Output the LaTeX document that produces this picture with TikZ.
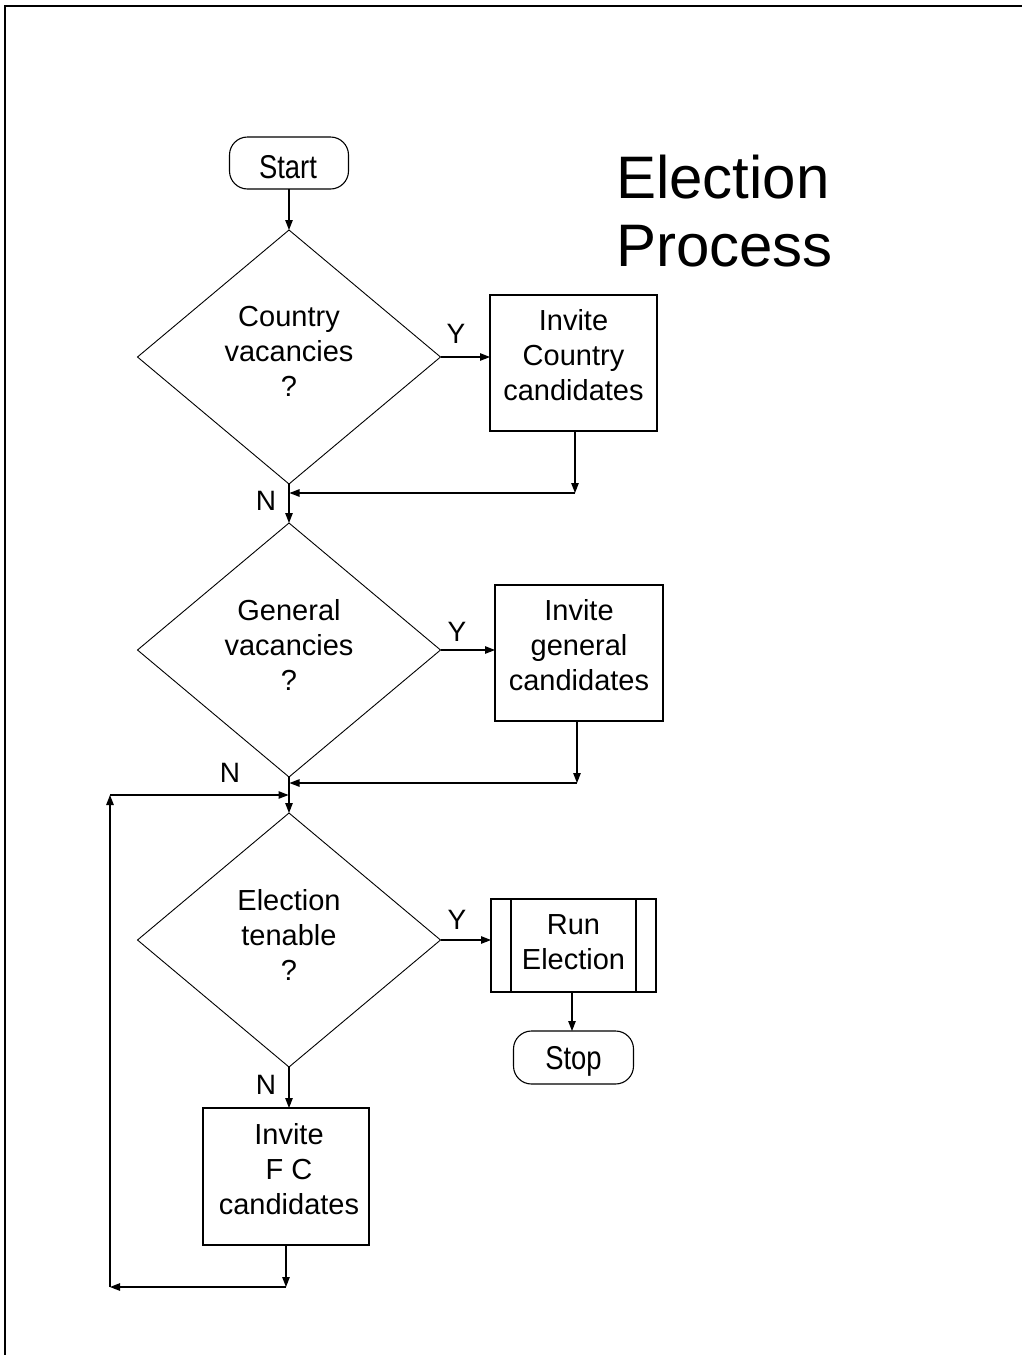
\documentclass[tikz,border=0pt]{standalone}
\usepackage{fontspec}
\usepackage{graphicx}
\setmainfont{Liberation Sans}
\usetikzlibrary{shapes.geometric,arrows.meta}
\begin{document}
\begin{tikzpicture}[x=1pt,y=-1pt,
  every node/.style={inner sep=0pt,outer sep=0pt},
  txt/.style={font=\fontsize{29}{35}\selectfont,align=center},
  lbl/.style={font=\fontsize{28}{30}\selectfont},
  decision/.style={draw,diamond,line width=0.9pt,minimum width=303pt,minimum height=254pt},
  procbox/.style={draw,rectangle,line width=1.3pt},
  term/.style={draw,rectangle,rounded corners=18pt,line width=1.1pt,minimum width=119pt,minimum height=52pt},
  arr/.style={line width=1.1pt,-{Triangle[length=10pt,width=7.5pt]}}
]
\useasboundingbox (0,0) rectangle (1022,1355);
\draw[line width=2.8pt] (1022,6) -- (5,6) -- (5,1355);

% title
\node[anchor=north west,align=left,font=\fontsize{60}{68}\selectfont] (title) at (616,155) {Election\\Process};

% start
\node[term] (start) at (289,163) {};
\node[font=\fontsize{33}{35}\selectfont] (starttxt) at (288,167) {\scalebox{0.83}[1]{Start}};

% decisions
\node[decision] (d1) at (289,357) {};
\node[txt] (d1t) at (289,351) {Country\\vacancies\\?};
\node[decision] (d2) at (289,650) {};
\node[txt] (d2t) at (289,645) {General\\vacancies\\?};
\node[decision] (d3) at (289,940) {};
\node[txt] (d3t) at (289,935) {Election\\tenable\\?};

% boxes
\node[procbox,minimum width=167pt,minimum height=136pt] (b1) at (573.5,363) {};
\node[txt] (b1t) at (573.5,355) {Invite\\Country\\candidates};
\node[procbox,minimum width=168pt,minimum height=136pt] (b2) at (579,653) {};
\node[txt] (b2t) at (579,645) {Invite\\general\\candidates};
\node[procbox,minimum width=166pt,minimum height=137pt] (b3) at (286,1176.5) {};
\node[txt] (b3t) at (289,1169) {Invite\\F C\\candidates};
\node[procbox,minimum width=165pt,minimum height=93pt] (run) at (573.5,945.5) {};
\draw[line width=1.1pt] ([xshift=20pt]run.north west) -- ([xshift=20pt]run.south west);
\draw[line width=1.1pt] ([xshift=-20pt]run.north east) -- ([xshift=-20pt]run.south east);
\node[txt] (runt) at (573.5,942) {Run\\Election};

% stop
\node[term,minimum width=120pt,minimum height=53pt] (stop) at (573.5,1057.5) {};
\node[font=\fontsize{33}{35}\selectfont] (stoptxt) at (573.5,1061) {\scalebox{0.83}[1]{Stop}};

% junction coordinates
\coordinate (j1) at (575,493);
\coordinate (m1) at (289.5,493);
\coordinate (j2) at (577,783);
\coordinate (m2) at (289.5,783);
\coordinate (l1) at (286,1287);
\coordinate (l2) at (110,1287);
\coordinate (l3) at (110,795);
\coordinate (m3) at (288.5,795);

% connectors
\draw[arr] (start.south) -- (d1.north);
\draw[arr] (d1.east) -- (d1.east -| b1.west);
\draw[arr] (b1.south -| j1) -- (j1);
\draw[arr] (j1) -- (m1);
\draw[arr] (d1.south) -- (d2.north);
\draw[arr] (d2.east) -- (d2.east -| b2.west);
\draw[arr] (b2.south -| j2) -- (j2);
\draw[arr] (j2) -- (m2);
\draw[arr] (d2.south) -- (d3.north);
\draw[arr] (d3.east) -- (d3.east -| run.west);
\draw[arr] (run.south -| 572,0) -- (stop.north -| 572,0);
\draw[arr] (d3.south) -- (b3.north -| d3.south);
\draw[arr] (b3.south) -- (l1);
\draw[arr] (l1) -- (l2);
\draw[arr] (l2) -- (l3);
\draw[arr] (l3) -- (m3);

% labels
\node[lbl] (y1) at (456,334) {Y};
\node[lbl] (y2) at (457,632) {Y};
\node[lbl] (y3) at (457,920) {Y};
\node[lbl] (n1) at (266,501) {N};
\node[lbl] (n2) at (230,773) {N};
\node[lbl] (n3) at (266,1085) {N};
\end{tikzpicture}
\end{document}
